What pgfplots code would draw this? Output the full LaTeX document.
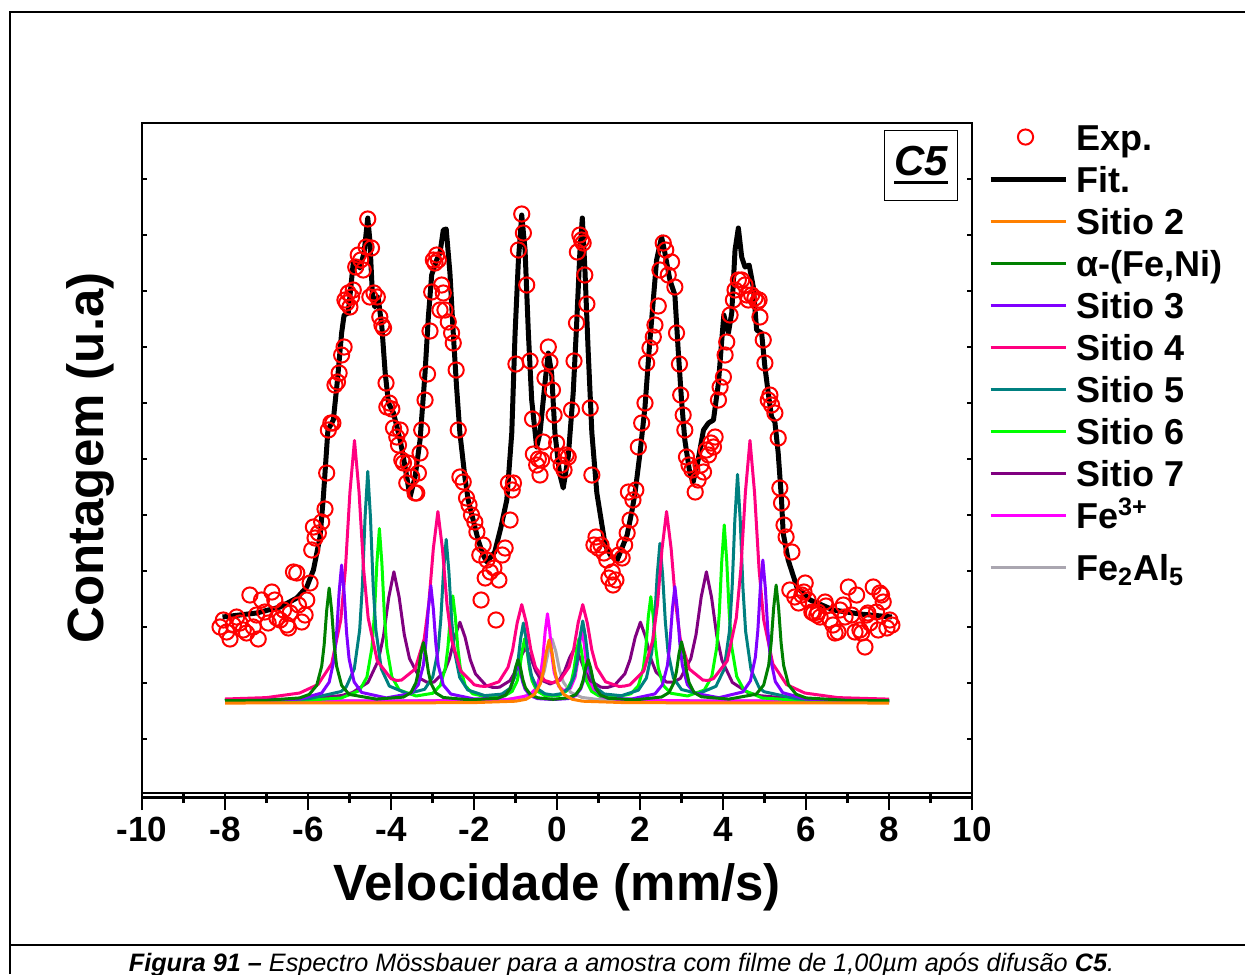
\documentclass[border=0pt]{standalone}
\usepackage{fontspec}
\setmainfont{Liberation Sans}
\usepackage{pgfplots}
\pgfplotsset{compat=1.18}
\definecolor{cS2}{HTML}{FF8000}
\definecolor{cAl}{HTML}{008000}
\definecolor{cS3}{HTML}{8000FF}
\definecolor{cS4}{HTML}{FF0080}
\definecolor{cS5}{HTML}{008080}
\definecolor{cS6}{HTML}{00FF00}
\definecolor{cS7}{HTML}{800080}
\definecolor{cFe}{HTML}{FF00FF}
\definecolor{cFA}{HTML}{AAA6B0}
\pgfplotsset{
  legline/.style={legend image code/.code={\draw[##1] (0pt,0pt) -- (37.5pt,0pt);}},
  legmark/.style={legend image code/.code={\draw[##1] plot coordinates {(17.5pt,0pt)};}},
  comp/.style={line width=1.5pt, line join=round, forget plot},
}
\begin{document}
\begin{tikzpicture}
\useasboundingbox (0,0) rectangle (622.5pt,-487pt);
\draw[line width=1pt] (5pt,-487pt) -- (5pt,-6pt) -- (622.5pt,-6pt);
\draw[line width=0.8pt] (5pt,-472.5pt) -- (622.5pt,-472.5pt);
\node[anchor=base, font=\fontsize{12.6}{12.6}\selectfont\itshape] at (310.75pt,-485.5pt) {\textbf{Figura 91 –} Espectro Mössbauer para a amostra com filme de 1,00µm após difusão \textbf{C5}.};
\begin{axis}[
  name=main,
  at={(71pt,-396.5pt)}, anchor=south west,
  width=415pt, height=335pt, scale only axis,
  xmin=-10, xmax=10, ymin=2, ymax=672,
  xtick={-10,-8,...,10}, minor x tick num=1,
  xtick pos=bottom, xtick align=outside,
  ytick={56,112,...,616}, yticklabels={}, ytick align=inside, ytick pos=both,
  major tick length=8.5pt, minor tick length=5pt,
  xtick style={line width=1.3pt, black},
  ytick style={/pgfplots/major tick length=2.5pt, line width=0.8pt, black},
  axis line style={line width=1.3pt},
  /pgf/number format/assume math mode=true,
  tick label style={font=\bfseries\fontsize{17.5}{18}\selectfont},
  xlabel={Velocidade (mm/s)},
  ylabel={Contagem (u.a)},
  every axis x label/.style={at={(axis description cs:0.5,-0.1597)}, anchor=base, font=\bfseries\fontsize{25.5}{26}\selectfont},
  every axis y label/.style={at={(axis description cs:-0.0458,0.5)}, anchor=base, rotate=90, font=\bfseries\fontsize{25.5}{26}\selectfont},
  legend style={at={(1.0193,1.0104)}, anchor=north west, draw=none, fill=none, inner sep=0pt, outer sep=0pt, row sep=0pt, column sep=4pt, font=\bfseries\fontsize{18}{18}\selectfont, nodes={inner sep=0pt, text height=17pt, text depth=4pt}},
  legend cell align=left,
  clip=false,
]
% legend entries
\addlegendimage{legmark, only marks, mark=o, red, mark size=3.8pt, line width=1pt}
\addlegendentry{Exp.}
\addlegendimage{legline, black, line width=2.5pt}
\addlegendentry{Fit.}
\addlegendimage{legline, cS2, line width=1.5pt}
\addlegendentry{Sitio 2}
\addlegendimage{legline, cAl, line width=1.5pt}
\addlegendentry{α-(Fe,Ni)}
\addlegendimage{legline, cS3, line width=1.5pt}
\addlegendentry{Sitio 3}
\addlegendimage{legline, cS4, line width=1.5pt}
\addlegendentry{Sitio 4}
\addlegendimage{legline, cS5, line width=1.5pt}
\addlegendentry{Sitio 5}
\addlegendimage{legline, cS6, line width=1.5pt}
\addlegendentry{Sitio 6}
\addlegendimage{legline, cS7, line width=1.5pt}
\addlegendentry{Sitio 7}
\addlegendimage{legline, cFe, line width=1.5pt}
\addlegendentry{Fe\textsuperscript{3+}}
\addlegendimage{legline, cFA, line width=1.5pt}
\addlegendentry[text height=22pt, text depth=9pt]{Fe\textsubscript{2}Al\textsubscript{5}}

% Fe2Al5
\addplot[comp, cFA] coordinates {(-8,94) (-4,94.1) (-2,94.6) (-1.2,95.7) (-0.84,97.6) (-0.57,102.6) (-0.39,113.1) (-0.30,125) (-0.21,143.6) (-0.12,156) (-0.03,143.6) (0.06,125) (0.15,113.1) (0.33,102.6) (0.60,97.6) (0.96,95.7) (1.76,94.6) (3.76,94.1) (8,94)};
% Fe3+
\addplot[comp, cFe] coordinates {(-8,94) (-4,94.1) (-2,94.4) (-1.2,95.4) (-0.67,99.6) (-0.505,106.5) (-0.395,121.2) (-0.34,137.7) (-0.285,163.6) (-0.23,181.2) (-0.175,164.1) (-0.12,138.4) (-0.065,122.1) (0.045,108.5) (0.16,104.4) (0.325,106.9) (0.435,117.8) (0.49,130.9) (0.545,151.6) (0.60,165.4) (0.655,151.2) (0.71,130) (0.765,116.4) (0.875,104.4) (1.04,98.6) (1.5,95.3) (2.5,94.4) (4,94.1) (8,94)};
% Sitio 7
\addplot[comp, cS7] coordinates {(-8,94.7) (-7,95.2) (-6,96.4) (-5.2,99.4) (-4.93,102.4) (-4.555,112.6) (-4.305,134.6) (-4.18,159.2) (-4.055,197.4) (-3.93,223.2) (-3.805,198.1) (-3.68,160.4) (-3.555,136.5) (-3.305,116.7) (-3.135,112.8) (-2.965,113) (-2.715,123.1) (-2.59,136.5) (-2.465,158.1) (-2.34,172.8) (-2.215,157.8) (-2.09,135.4) (-1.965,121.2) (-1.715,109.7) (-1.55,107.6) (-1.385,107.8) (-1.135,114.3) (-1.01,123.1) (-0.885,137.3) (-0.76,147.1) (-0.635,137.5) (-0.51,123.6) (-0.385,115.1) (-0.165,111) (0.055,115.1) (0.18,123.6) (0.305,137.5) (0.43,147.1) (0.555,137.3) (0.68,123.1) (0.805,114.3) (1.055,107.8) (1.22,107.6) (1.385,109.7) (1.635,121.2) (1.76,135.4) (1.885,157.8) (2.01,172.8) (2.135,158.1) (2.26,136.5) (2.385,123.1) (2.635,113) (2.805,112.8) (2.975,116.7) (3.225,136.5) (3.35,160.4) (3.475,198.1) (3.60,223.2) (3.725,197.4) (3.85,159.2) (3.975,134.6) (4.225,112.6) (4.60,102.4) (4.87,99.4) (5.67,96.4) (6.67,95.2) (8,94.6)};
% Sitio 6
\addplot[comp, cS6] coordinates {(-8,94.2) (-7,94.4) (-6,94.9) (-5.2,97) (-4.76,104.4) (-4.58,118) (-4.46,147.2) (-4.40,180.3) (-4.34,231.9) (-4.28,266.4) (-4.22,232) (-4.16,180.4) (-4.10,147.3) (-3.98,118.2) (-3.80,105) (-3.395,99) (-2.99,101.8) (-2.81,109.7) (-2.69,127.2) (-2.63,147.1) (-2.57,178.3) (-2.51,199.1) (-2.45,178.3) (-2.39,147) (-2.33,127) (-2.21,109.3) (-2.03,101.2) (-1.645,97.7) (-1.26,99.1) (-1.08,103.7) (-0.96,114) (-0.90,125.7) (-0.84,144) (-0.78,156.2) (-0.72,144.1) (-0.66,125.8) (-0.60,114.2) (-0.48,104) (-0.30,99.6) (-0.125,98.9) (0.05,99.6) (0.23,104) (0.35,114.2) (0.41,125.8) (0.47,144.1) (0.53,156.2) (0.59,144) (0.65,125.7) (0.71,114) (0.83,103.7) (1.01,99.1) (1.395,97.7) (1.78,101.2) (1.96,109.3) (2.08,127) (2.14,147) (2.20,178.3) (2.26,198.3) (2.32,178.3) (2.38,147.1) (2.44,127.2) (2.56,109.7) (2.74,101.8) (3.145,99) (3.55,105) (3.73,118.5) (3.85,148) (3.91,181.5) (3.97,234) (4.03,270) (4.09,234) (4.15,181.5) (4.21,148) (4.33,118.5) (4.51,104.6) (4.95,97) (5.75,94.9) (6.75,94.4) (8,94.2)};
% Sitio 5
\addplot[comp, cS5] coordinates {(-8,94.4) (-7,94.8) (-6,96.1) (-5.2,103.5) (-5.08,108) (-4.885,126.1) (-4.755,165) (-4.69,209) (-4.625,277.7) (-4.56,323.6) (-4.495,277.8) (-4.43,209.2) (-4.365,165.2) (-4.235,126.4) (-4.04,108.9) (-3.6,101.3) (-3.19,105.7) (-2.995,117.9) (-2.865,144.9) (-2.80,175.6) (-2.735,223.5) (-2.67,255.6) (-2.605,223.4) (-2.54,175.4) (-2.475,144.6) (-2.345,117.6) (-2.15,105) (-1.74,99.4) (-1.33,100.9) (-1.135,106.6) (-1.005,119.4) (-0.94,134) (-0.875,156.7) (-0.81,172) (-0.745,156.8) (-0.68,134) (-0.615,119.4) (-0.485,106.7) (-0.29,101.2) (-0.095,100) (0.10,101.3) (0.295,107) (0.425,120) (0.49,135) (0.555,158.3) (0.62,174) (0.685,158.3) (0.75,135) (0.815,120.2) (0.945,107) (1.14,101) (1.55,99.3) (1.96,104.8) (2.155,117) (2.285,143) (2.35,173.4) (2.415,220.3) (2.48,251.6) (2.545,220.3) (2.61,173.4) (2.675,143) (2.805,117) (3.00,105.5) (3.41,101.3) (3.83,108.7) (4.025,125.5) (4.155,163.7) (4.22,207.3) (4.285,274.8) (4.35,320.6) (4.415,274.8) (4.48,207.3) (4.545,163.7) (4.675,125.2) (4.87,107.4) (4.99,103.3) (5.79,96.1) (6.79,94.8) (8,94.4)};
% Sitio 4
\addplot[comp, cS4] coordinates {(-8,96) (-7,97.4) (-6.2,102) (-5.76,110.5) (-5.43,131.2) (-5.21,175.2) (-5.10,225) (-4.99,302.6) (-4.88,354.5) (-4.77,303) (-4.66,226) (-4.55,177) (-4.33,134) (-4.00,116.4) (-3.88,114.7) (-3.75,114.8) (-3.42,125.9) (-3.20,156) (-3.09,191.2) (-2.98,246.4) (-2.87,283.5) (-2.76,246) (-2.65,190.3) (-2.54,155) (-2.32,124) (-1.99,110.2) (-1.86,109) (-1.73,108.5) (-1.40,113.2) (-1.18,127.7) (-1.07,144.9) (-0.96,172.1) (-0.85,190.4) (-0.74,172.3) (-0.63,145.2) (-0.52,128) (-0.30,114.6) (-0.11,112.2) (0.07,114.6) (0.29,128) (0.40,145.2) (0.51,172.3) (0.62,190.4) (0.73,172.1) (0.84,144.9) (0.95,127.7) (1.17,113.2) (1.50,108.5) (1.63,109) (1.76,110.2) (2.09,124) (2.31,155) (2.42,190.3) (2.53,246) (2.64,283.5) (2.75,246.4) (2.86,191.2) (2.97,156) (3.19,125.9) (3.52,114.8) (3.65,114.7) (3.77,116.4) (4.10,134) (4.32,177) (4.43,226) (4.54,303) (4.65,354.5) (4.76,302.6) (4.87,225) (4.98,175.2) (5.20,131.2) (5.53,110.5) (5.97,102) (6.77,97.4) (8,95.9)};
% Sitio 3
\addplot[comp, cS3] coordinates {(-8,94.2) (-7,94.6) (-6.2,95.9) (-5.67,102) (-5.49,112.8) (-5.37,135.8) (-5.31,162) (-5.25,202.8) (-5.19,230) (-5.13,202.8) (-5.07,162) (-5.01,136.2) (-4.89,113.2) (-4.71,102.6) (-4.115,97.1) (-3.52,101.5) (-3.34,110.4) (-3.22,129.8) (-3.16,151.9) (-3.10,186.3) (-3.04,209.3) (-2.98,186.2) (-2.92,151.6) (-2.86,129.5) (-2.74,110) (-2.56,101) (-1.995,96) (-1.43,96.7) (-1.25,99.8) (-1.13,106) (-1.07,113.5) (-1.01,124.8) (-0.95,132.4) (-0.89,124.6) (-0.83,113.4) (-0.77,106) (-0.65,99.5) (-0.47,96.4) (-0.10,95.5) (0.27,96.4) (0.45,99.5) (0.57,106) (0.63,113.4) (0.69,124.6) (0.75,132.4) (0.81,124.8) (0.87,113.5) (0.93,106) (1.05,99.8) (1.23,96.7) (1.795,96) (2.36,101.1) (2.54,110.2) (2.66,129.5) (2.72,151.4) (2.78,185.6) (2.84,208.4) (2.90,185.6) (2.96,151.5) (3.02,129.7) (3.14,110.5) (3.32,101.8) (3.90,97.3) (4.48,103.1) (4.66,114.1) (4.78,137.9) (4.84,164.9) (4.90,207.2) (4.96,235) (5.02,206.8) (5.08,164.5) (5.14,137.4) (5.26,113.5) (5.44,102.3) (6.0,95.9) (7.0,94.5) (8,94.2)};
% alpha-(Fe,Ni)
\addplot[comp, cAl] coordinates {(-8,94.3) (-7,94.7) (-6.2,97.1) (-5.97,100.6) (-5.79,109.6) (-5.67,128.8) (-5.61,150.5) (-5.55,184.4) (-5.49,207) (-5.43,184.4) (-5.37,150.5) (-5.31,128.8) (-5.19,109.6) (-5.01,100.6) (-4.35,95.9) (-3.70,97.9) (-3.52,102.4) (-3.40,112.2) (-3.34,123.4) (-3.28,140.8) (-3.22,152.4) (-3.16,140.6) (-3.10,123.2) (-3.04,111.9) (-2.92,102.1) (-2.74,97.5) (-2.08,95.1) (-1.42,96.8) (-1.24,100) (-1.12,107) (-1.06,114.9) (-1.00,127.2) (-0.94,135.4) (-0.88,127.2) (-0.82,115) (-0.76,107.2) (-0.64,100.4) (-0.46,97.2) (-0.095,95.7) (0.27,97.2) (0.45,100.4) (0.57,107.2) (0.63,115) (0.69,127.2) (0.75,135.4) (0.81,127.2) (0.87,114.9) (0.93,107) (1.05,100) (1.23,96.8) (1.875,95.1) (2.52,98) (2.70,102.5) (2.82,112.6) (2.88,123.9) (2.94,141.4) (3.00,153.2) (3.06,141.4) (3.12,124) (3.18,112.7) (3.30,102.5) (3.48,98.2) (4.14,95.9) (4.80,100.8) (4.98,110) (5.10,129.7) (5.16,152) (5.22,186.8) (5.28,210) (5.34,186.8) (5.40,152) (5.46,129.7) (5.58,110) (5.76,100.8) (6.0,97.1) (7.0,94.6) (8,94.3)};
% Sitio 2
\addplot[comp, cS2] coordinates {(-8,92.0) (-4,92.1) (-2,92.4) (-1,93.8) (-0.75,95.7) (-0.54,100.7) (-0.40,111.4) (-0.33,123.5) (-0.26,142.4) (-0.19,155) (-0.12,142.4) (-0.05,123.5) (0.02,111.4) (0.16,100.7) (0.37,95.7) (0.62,93.8) (1.62,92.4) (3.81,92.1) (8,92.0)};
% Experimental
\addplot[forget plot, only marks, mark=o, red, mark size=3.8pt, line width=1pt] coordinates {
(-8.12,168) (-8.04,175) (-7.96,163) (-7.88,156) (-7.80,170) (-7.72,178) (-7.64,172) (-7.56,165) (-7.48,162) (-7.40,200) (-7.32,168) (-7.24,180) (-7.20,156) (-7.12,195) (-7.04,183) (-6.96,172) (-6.87,203) (-6.80,195) (-6.75,177) (-6.67,175) (-6.59,185) (-6.51,170) (-6.47,167) (-6.43,182) (-6.35,223) (-6.27,222) (-6.23,190) (-6.15,173) (-6.07,180) (-6.03,195) (-5.95,212) (-5.91,245) (-5.87,268) (-5.83,257) (-5.75,262) (-5.67,273) (-5.59,286) (-5.55,322) (-5.51,365) (-5.45,372) (-5.40,372) (-5.35,410) (-5.29,413) (-5.25,422) (-5.19,440) (-5.13,448) (-5.11,495) (-5.07,492) (-5.03,502) (-4.99,488) (-4.95,498) (-4.91,505) (-4.85,528) (-4.79,540) (-4.73,535) (-4.67,525) (-4.60,548) (-4.56,576) (-4.51,498) (-4.47,547) (-4.41,502) (-4.33,498) (-4.27,478) (-4.22,470) (-4.18,467) (-4.12,412) (-4.10,388) (-4.04,392) (-3.98,386) (-3.94,367) (-3.86,358) (-3.82,350) (-3.78,365) (-3.74,335) (-3.70,332) (-3.62,312) (-3.59,332) (-3.50,318) (-3.42,302) (-3.38,302) (-3.34,322) (-3.30,342) (-3.26,365) (-3.18,395) (-3.12,421) (-3.06,464) (-3.02,503) (-2.98,535) (-2.94,532) (-2.90,540) (-2.86,535) (-2.82,485) (-2.78,510) (-2.74,502) (-2.70,485) (-2.62,473) (-2.54,462) (-2.50,452) (-2.43,425) (-2.38,365) (-2.34,318) (-2.26,313) (-2.18,297) (-2.12,290) (-2.06,280) (-1.98,273) (-1.93,263) (-1.86,240) (-1.83,195) (-1.78,250) (-1.73,217) (-1.69,235) (-1.61,223) (-1.52,227) (-1.47,175) (-1.40,215) (-1.32,240) (-1.25,247) (-1.17,312) (-1.13,275) (-1.08,305) (-1.05,312) (-0.99,431) (-0.93,545) (-0.85,581) (-0.81,562) (-0.73,510) (-0.65,434) (-0.59,376) (-0.57,341) (-0.49,330) (-0.45,336) (-0.41,320) (-0.37,335) (-0.33,353) (-0.29,417) (-0.21,448) (-0.17,433) (-0.11,405) (-0.07,380) (-0.01,352) (0.03,339) (0.10,330) (0.17,325) (0.22,340) (0.27,338) (0.35,385) (0.41,434) (0.47,472) (0.49,543) (0.55,560) (0.59,555) (0.63,552) (0.67,520) (0.72,491) (0.80,387) (0.84,320) (0.89,250) (0.94,258) (0.99,247) (1.06,250) (1.13,242) (1.20,235) (1.25,217) (1.33,223) (1.35,210) (1.42,215) (1.49,240) (1.57,237) (1.63,250) (1.69,262) (1.72,303) (1.76,275) (1.83,295) (1.90,305) (1.96,348) (2.04,372) (2.12,392) (2.16,432) (2.24,447) (2.32,458) (2.36,470) (2.44,489) (2.48,525) (2.56,552) (2.62,545) (2.68,520) (2.76,533) (2.84,508) (2.88,462) (2.95,431) (2.98,400) (3.04,380) (3.08,365) (3.12,338) (3.18,330) (3.25,325) (3.33,303) (3.40,315) (3.47,330) (3.53,323) (3.60,345) (3.65,340) (3.71,352) (3.77,348) (3.81,358) (3.89,395) (3.93,408) (4.01,418) (4.05,440) (4.09,453) (4.17,480) (4.25,495) (4.29,505) (4.37,515) (4.45,515) (4.53,510) (4.57,500) (4.61,495) (4.69,500) (4.77,497) (4.83,493) (4.87,495) (4.89,478) (4.97,455) (5.01,432) (5.09,395) (5.13,400) (5.17,390) (5.25,382) (5.33,357) (5.37,307) (5.41,292) (5.47,270) (5.52,258) (5.61,205) (5.66,243) (5.73,198) (5.82,192) (5.90,200) (5.95,203) (5.98,212) (6.05,195) (6.14,183) (6.18,182) (6.26,180) (6.29,183) (6.34,178) (6.46,193) (6.48,189) (6.58,175) (6.65,170) (6.70,162) (6.77,163) (6.82,185) (6.90,190) (6.94,178) (7.02,208) (7.10,180) (7.18,163) (7.22,200) (7.30,165) (7.34,162) (7.42,148) (7.46,180) (7.49,182) (7.54,172) (7.62,208) (7.70,183) (7.74,165) (7.78,202) (7.82,200) (7.86,193) (7.95,167) (8.02,175) (8.07,170)};
% Fit
\addplot[forget plot, black, line width=2.5pt, line join=round] coordinates {
(-8.06,178) (-7.24,182) (-6.67,188) (-6.27,197) (-6.03,208) (-5.87,225) (-5.71,258) (-5.63,298) (-5.52,365) (-5.39,375) (-5.29,415) (-5.19,462) (-5.13,480) (-5.03,482) (-4.91,532) (-4.83,533) (-4.75,527) (-4.65,542) (-4.56,577) (-4.51,555) (-4.45,502) (-4.39,488) (-4.31,498) (-4.22,468) (-4.14,422) (-4.06,392) (-3.94,382) (-3.78,355) (-3.66,328) (-3.54,298) (-3.42,318) (-3.30,355) (-3.18,422) (-3.10,478) (-3.02,520) (-2.90,535) (-2.82,542) (-2.74,565) (-2.67,566) (-2.58,522) (-2.50,462) (-2.42,408) (-2.34,362) (-2.22,318) (-2.14,295) (-1.90,255) (-1.78,240) (-1.69,233) (-1.50,243) (-1.35,268) (-1.21,295) (-1.09,362) (-1.01,462) (-0.93,535) (-0.85,580) (-0.77,545) (-0.69,462) (-0.61,395) (-0.49,348) (-0.41,362) (-0.29,412) (-0.21,442) (-0.13,422) (-0.05,362) (0.06,322) (0.15,307) (0.27,338) (0.39,402) (0.47,468) (0.55,542) (0.61,577) (0.67,528) (0.75,445) (0.84,362) (0.96,302) (1.16,250) (1.30,239) (1.45,235) (1.69,260) (1.81,285) (1.88,302) (2.00,342) (2.12,388) (2.22,445) (2.32,495) (2.40,535) (2.52,558) (2.60,542) (2.72,515) (2.84,500) (2.92,445) (3.00,395) (3.08,355) (3.20,322) (3.28,313) (3.40,335) (3.53,365) (3.65,372) (3.77,375) (3.89,412) (3.97,455) (4.02,480) (4.13,462) (4.21,482) (4.29,545) (4.37,567) (4.45,538) (4.53,528) (4.63,530) (4.73,508) (4.81,465) (4.93,462) (5.01,428) (5.09,402) (5.17,378) (5.25,373) (5.33,342) (5.41,295) (5.45,262) (5.57,235) (5.78,208) (6.10,195) (6.66,185) (7.30,181) (8.07,178)};
% C5 label
\node[draw=black, line width=0.6pt, minimum width=36.5pt, minimum height=35pt, inner sep=0pt, font=\bfseries\itshape\fontsize{21}{21}\selectfont] at (rel axis cs:0.9386,0.937) {\rlap{\rule[-4.5pt]{27pt}{1.6pt}}C5};
\end{axis}
\draw[line width=1.3pt] ([yshift=-2.3pt]main.south west) -- ([yshift=-2.3pt]main.south east);
\end{tikzpicture}
\end{document}
